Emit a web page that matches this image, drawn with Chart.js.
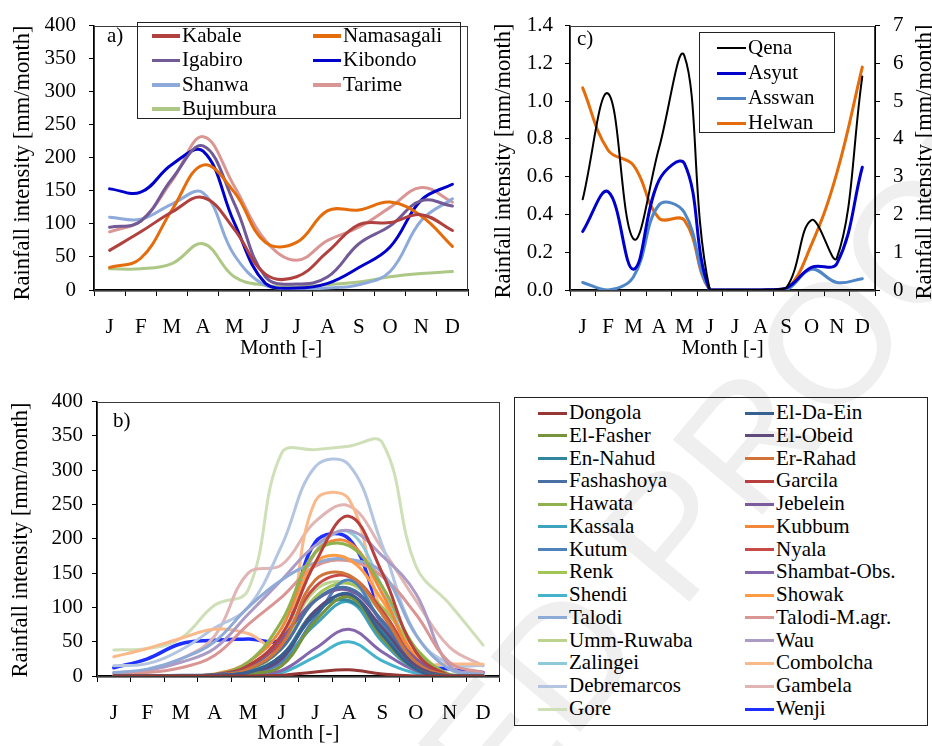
<!DOCTYPE html>
<html>
<head>
<meta charset="utf-8">
<script src="https://cdn.jsdelivr.net/npm/chart.js@4.4.1/dist/chart.umd.min.js"></script>
<style>
  html, body { margin: 0; padding: 0; background: #fff; }
  body { width: 932px; height: 746px; position: relative; overflow: hidden; font-family: 'Liberation Serif'; }
  canvas { position: absolute; }
  .wm { position: absolute; left: 571px; top: 743px; font-family: 'Liberation Sans'; font-size: 170px; line-height: 1; color: #efefef;
        white-space: nowrap; transform-origin: 0 0; transform: rotate(-50deg) translate(-1199px, -144px); }
  .box { position: absolute; border: 1px solid #222; box-sizing: border-box; }
  .item { position: absolute; height: 24px; font-family: 'Liberation Serif'; font-size: 21px; line-height: 24px; white-space: nowrap; color: #000; }
  .item i { position: absolute; left: 0; }
  .item span { position: absolute; top: 0; }
  .tag { position: absolute; font-family: 'Liberation Serif'; font-size: 21px; line-height: 24px; }
</style>
</head>
<body>
<div class="wm">UNCORRECTED PROOF</div>
<canvas id="chartA" width="480" height="370" style="left:0;top:0"></canvas>
<canvas id="chartC" width="470" height="370" style="left:480px;top:0"></canvas>
<canvas id="chartB" width="510" height="366" style="left:0;top:380px"></canvas>
<div class="box" style="left:137px;top:22px;width:324px;height:97px"></div>
<div class="box" style="left:699px;top:32px;width:136px;height:101px"></div>
<div class="box" style="left:514px;top:397px;width:414px;height:329px"></div>
<div class="tag" style="left:107px;top:23px">a)</div>
<div class="tag" style="left:577px;top:26px">c)</div>
<div class="tag" style="left:113px;top:408px">b)</div>
<script>
const months = ['J', 'F', 'M', 'A', 'M', 'J', 'J', 'A', 'S', 'O', 'N', 'D'];
const yTitle = 'Rainfall intensity [mm/month]';

// a) East African stations [mm/month]
const stationsA = ['Kabale', 'Namasagali', 'Igabiro', 'Kibondo', 'Shanwa', 'Tarime', 'Bujumbura'];
const kabale     = [60, 88, 118, 140, 92, 24, 20, 58, 99, 102, 114, 90];
const namasagali = [34, 48, 121, 189, 148, 72, 72, 120, 121, 133, 112, 66];
const igabiro    = [95, 104, 168, 218, 131, 20, 9, 20, 70, 97, 135, 127];
const kibondo    = [153, 148, 190, 210, 102, 10, 3, 10, 34, 65, 136, 160];
const shanwa     = [110, 107, 130, 147, 53, 7, 2, 3, 8, 28, 105, 138];
const tarime     = [88, 105, 165, 232, 157, 75, 45, 75, 95, 125, 155, 133];
const bujumbura  = [32, 32, 40, 70, 20, 7, 5, 8, 12, 20, 25, 28];
const seriesA = [kabale, namasagali, igabiro, kibondo, shanwa, tarime, bujumbura];
const colorsA = ['#b0413e', '#e46c0a', '#715a96', '#0000cc', '#8eaadb', '#d99694', '#adc884'];

// c) Egyptian stations [mm/month], Helwan on the right axis
const stationsC = ['Qena', 'Asyut', 'Asswan', 'Helwan'];
const qena   = [0.48, 1.04, 0.27, 0.75, 1.24, 0, 0, 0, 0.01, 0.37, 0.17, 1.13];
const asyut  = [0.31, 0.52, 0.11, 0.58, 0.67, 0, 0, 0, 0.01, 0.12, 0.14, 0.65];
const asswan = [0.04, 0.0, 0.07, 0.45, 0.41, 0, 0, 0, 0, 0.11, 0.04, 0.06];
const helwan = [5.35, 3.7, 3.3, 1.9, 1.85, 0, 0, 0, 0, 1.2, 3.1, 5.9];
const seriesC = [qena, asyut, asswan, helwan];
const colorsC = ['#000000', '#0000cc', '#4f86c6', '#e46c0a'];
const widthsC = [2, 3, 3, 3];

// b) Sudanese and Ethiopian stations [mm/month]
const stationsB = ['Dongola', 'El-Da-Ein', 'El-Fasher', 'El-Obeid', 'En-Nahud', 'Er-Rahad', 'Fashashoya', 'Garcila',
  'Hawata', 'Jebelein', 'Kassala', 'Kubbum', 'Kutum', 'Nyala', 'Renk', 'Shambat-Obs.', 'Shendi', 'Showak',
  'Talodi', 'Talodi-M.agr.', 'Umm-Ruwaba', 'Wau', 'Zalingei', 'Combolcha', 'Debremarcos', 'Gambela', 'Gore', 'Wenji'];
const dongola     = [0, 0, 0, 0, 0, 1, 6, 9, 3, 0, 0, 0];
const elDaEin     = [0, 0, 0, 1, 5, 30, 90, 120, 60, 10, 0, 0];
const elFasher    = [0, 0, 0, 0, 3, 15, 80, 115, 55, 10, 0, 0];
const elObeid     = [0, 0, 0, 1, 5, 25, 95, 118, 70, 15, 0, 0];
const enNahud     = [0, 0, 0, 1, 6, 30, 95, 110, 65, 12, 0, 0];
const erRahad     = [0, 0, 0, 1, 10, 45, 140, 147, 90, 20, 1, 0];
const fashashoya  = [0, 0, 1, 2, 10, 40, 110, 128, 80, 15, 1, 0];
const garcila     = [0, 0, 0, 2, 15, 60, 165, 233, 150, 35, 1, 0];
const hawata      = [0, 0, 0, 2, 20, 80, 180, 190, 130, 40, 2, 0];
const jebelein    = [0, 0, 0, 2, 10, 55, 110, 125, 80, 25, 1, 0];
const kassala     = [0, 0, 0, 1, 5, 25, 75, 108, 50, 10, 0, 0];
const kubbum      = [0, 0, 0, 3, 20, 70, 180, 195, 120, 25, 1, 0];
const kutum       = [0, 0, 0, 0, 5, 20, 85, 140, 75, 10, 0, 0];
const nyala       = [0, 0, 0, 2, 15, 50, 130, 145, 95, 25, 1, 0];
const renk        = [0, 0, 0, 1, 8, 40, 115, 135, 100, 40, 2, 0];
const shambat     = [0, 0, 0, 0, 2, 8, 40, 68, 35, 8, 0, 0];
const shendi      = [0, 0, 0, 0, 1, 5, 28, 50, 22, 4, 0, 0];
const showak      = [0, 0, 0, 2, 15, 55, 165, 170, 110, 30, 1, 0];
const talodi      = [5, 10, 25, 50, 100, 140, 165, 170, 150, 60, 10, 2];
const talodiMagr  = [3, 5, 12, 30, 75, 115, 160, 168, 145, 90, 20, 5];
const ummRuwaba   = [0, 0, 0, 2, 10, 45, 125, 135, 90, 20, 1, 0];
const wau         = [3, 8, 20, 40, 90, 140, 190, 212, 175, 120, 15, 3];
const zalingei    = [0, 0, 0, 2, 10, 50, 180, 210, 130, 25, 1, 0];
const combolcha   = [28, 40, 55, 68, 62, 40, 255, 258, 90, 20, 18, 17];
const debremarcos = [15, 18, 38, 70, 100, 190, 305, 308, 190, 60, 18, 15];
const gambela     = [5, 8, 25, 58, 150, 162, 225, 248, 185, 110, 42, 15];
const gore        = [38, 40, 55, 103, 125, 325, 330, 335, 340, 160, 105, 45];
const wenji       = [12, 25, 47, 52, 54, 56, 195, 200, 90, 20, 10, 5];
const seriesB = [dongola, elDaEin, elFasher, elObeid, enNahud, erRahad, fashashoya, garcila, hawata, jebelein,
  kassala, kubbum, kutum, nyala, renk, shambat, shendi, showak, talodi, talodiMagr, ummRuwaba, wau, zalingei,
  combolcha, debremarcos, gambela, gore, wenji];
const colorsB = ['#953735', '#376092', '#77933c', '#604a7b', '#31859c', '#d0743a', '#4a6fa5', '#b7403e',
  '#8fb24e', '#7a5c9e', '#40a3bd', '#f0873a', '#4f81bd', '#c84a47', '#a2c655', '#8466ad', '#46b3cc', '#ff9a45',
  '#8eaad6', '#d99694', '#bcd38f', '#ab9bc5', '#8fcadb', '#fab98a', '#b3c5e0', '#e0b5b3', '#cfdfb7', '#1f2fff'];

Chart.defaults.font.family = "'Liberation Serif'";
Chart.defaults.font.size = 21;
Chart.defaults.color = '#000';
Chart.defaults.animation = false;

// thin box around the plot area, like the spreadsheet original
const framePlugin = {
  id: 'frame',
  beforeDatasetsDraw(chart) {
    const a = chart.chartArea, ctx = chart.ctx;
    ctx.save();
    ctx.strokeStyle = '#3a3a3a';
    ctx.lineWidth = 1;
    ctx.strokeRect(Math.round(a.left) + 0.5, Math.round(a.top) + 0.5,
      Math.round(a.right - a.left) - 1, Math.round(a.bottom - a.top));
    ctx.restore();
  }
};

// rotated axis titles (both read bottom-to-top), placed like the original
function sideTitles(spots) {
  return {
    id: 'sideTitles',
    afterDraw(chart) {
      const ctx = chart.ctx;
      spots.forEach(p => {
        ctx.save();
        ctx.translate(p[0], p[1]);
        ctx.rotate(-Math.PI / 2);
        ctx.textAlign = 'center';
        ctx.textBaseline = 'middle';
        ctx.fillStyle = '#000';
        ctx.font = "22.5px 'Liberation Serif'";
        ctx.fillText(yTitle, 0, 0);
        ctx.restore();
      });
    }
  };
}

function xAxis(h, titlePad) {
  return {
    type: 'category',
    offset: true,
    grid: { offset: true, drawOnChartArea: false, tickLength: 6, color: '#000' },
    border: { color: '#000', width: 2.5 },
    ticks: { padding: 19, autoSkip: false, maxRotation: 0 },
    title: { display: true, text: 'Month [-]', padding: { top: 0, bottom: titlePad } },
    afterFit(s) { s.height = h; }
  };
}

function yAxis(w, max, step, tickPad, fmt) {
  return {
    min: 0, max: max,
    ticks: { stepSize: step, padding: tickPad, callback: fmt },
    grid: { drawOnChartArea: false, tickLength: 5, color: '#000' },
    border: { color: '#000', width: 1.5 },
    afterFit(s) { s.width = w; }
  };
}

function baseOptions(padding, scales) {
  return {
    responsive: false,
    layout: { padding: padding },
    plugins: { legend: { display: false }, tooltip: { enabled: false } },
    elements: { point: { radius: 0 }, line: { tension: 0.4, borderCapStyle: 'round', borderJoinStyle: 'round' } },
    scales: scales
  };
}

const charts = [];

// panel a
charts.push(new Chart(document.getElementById('chartA'), {
  type: 'line',
  data: {
    labels: months,
    datasets: stationsA.map((name, i) => ({ label: name, data: seriesA[i], borderColor: colorsA[i], borderWidth: 3 }))
  },
  options: baseOptions({ top: 15, right: 12, left: 0, bottom: 0 },
    { x: xAxis(80, 9), y: yAxis(94, 400, 50, 13, v => v) }),
  plugins: [framePlugin, sideTitles([[23, 163]])]
}));

// panel c
charts.push(new Chart(document.getElementById('chartC'), {
  type: 'line',
  data: {
    labels: months,
    datasets: stationsC.map((name, i) => ({
      label: name, data: seriesC[i], borderColor: colorsC[i], borderWidth: widthsC[i],
      yAxisID: name === 'Helwan' ? 'y2' : 'y'
    }))
  },
  options: baseOptions({ top: 19, right: 0, left: 0, bottom: 0 }, {
    x: xAxis(80, 9),
    y: yAxis(90, 1.4, 0.2, 12, v => v.toFixed(1)),
    y2: {
      position: 'right', min: 0, max: 7,
      ticks: { stepSize: 1, padding: 13 },
      grid: { drawOnChartArea: false, tickLength: 5, color: '#000' },
      border: { color: '#000', width: 1 },
      afterFit(s) { s.width = 75; }
    }
  }),
  plugins: [framePlugin, sideTitles([[24, 161], [445, 162]])]
}));

// panel b
charts.push(new Chart(document.getElementById('chartB'), {
  type: 'line',
  data: {
    labels: months,
    datasets: stationsB.map((name, i) => ({
      label: name, data: seriesB[i], borderColor: colorsB[i], borderWidth: name === 'Wenji' ? 3.5 : 3
    }))
  },
  options: baseOptions({ top: 17, right: 8, left: 0, bottom: 0 },
    { x: xAxis(70, 0), y: yAxis(97, 400, 50, 9, v => v) }),
  plugins: [framePlugin, sideTitles([[21, 160]])]
}));

// redraw once the serif face is surely available to the canvas
if (document.fonts && document.fonts.load) {
  document.fonts.load("21px 'Liberation Serif'").then(() => charts.forEach(c => c.update()));
}

// legends drawn as html entries over the canvases
function legend(names, colors, widths, left, top, cols, colGap, rowGap, lineW) {
  names.forEach((n, i) => {
    const d = document.createElement('div');
    d.className = 'item';
    d.style.left = (left + (i % cols) * colGap) + 'px';
    d.style.top = (top + Math.floor(i / cols) * rowGap - 12) + 'px';
    const w = widths[i];
    d.innerHTML = '<i style="width:' + lineW + 'px;height:' + w + 'px;top:' + (13 - w / 2) + 'px;background:' +
      colors[i] + '"></i><span style="left:' + (lineW + 2) + 'px">' + n + '</span>';
    document.body.appendChild(d);
  });
}

legend(stationsA, colorsA, stationsA.map(() => 3.5), 152, 35, 2, 161, 24.4, 28);
legend(stationsC, colorsC, widthsC, 717, 47, 1, 0, 25, 29);
legend(stationsB, colorsB, stationsB.map(() => 3), 538, 412, 2, 207, 22.77, 29);
</script>
</body>
</html>
